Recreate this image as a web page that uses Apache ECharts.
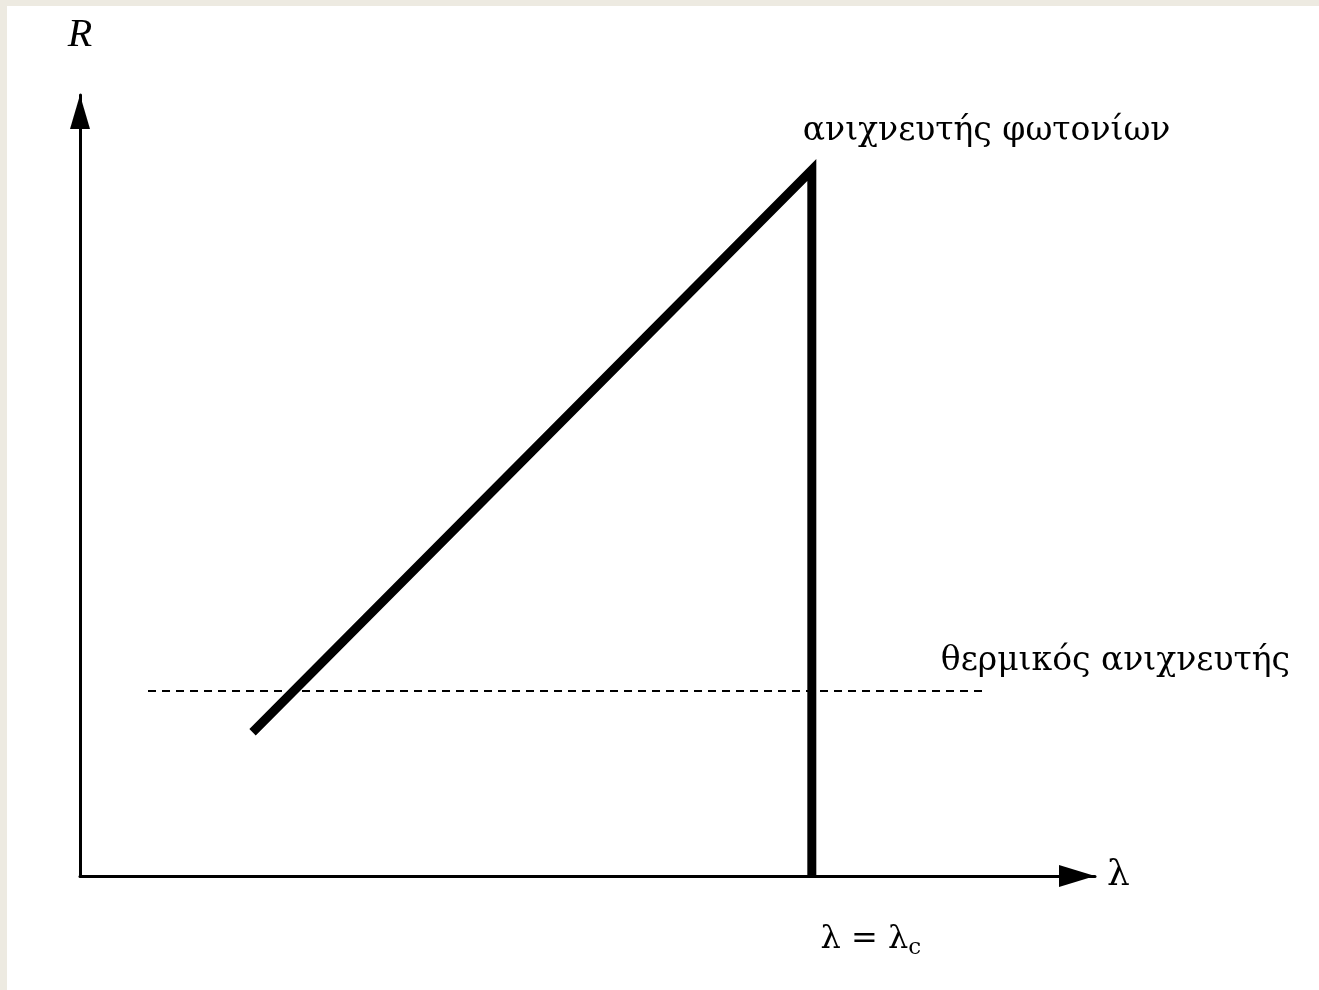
<!DOCTYPE html>
<html>
<head>
<meta charset="utf-8">
<script src="https://cdn.jsdelivr.net/npm/echarts@6/dist/echarts.min.js"></script>
<style>
  html, body { margin: 0; padding: 0; background: #edeae1; }
  #chart { position: absolute; left: 7px; top: 6px; width: 1312px; height: 984px; background: #ffffff; }
</style>
</head>
<body>
<div id="chart"></div>
<script>
// Data (arbitrary units: x and y span 0..100 along the axes)
const photonDetectorX = [17.0, 72.1, 72.1];
const photonDetectorY = [18.4, 90.4, 0];
const thermalDetectorX = [6.7, 89.2];
const thermalDetectorY = [23.7, 23.7];
const photonLabel = 'ανιχνευτής φωτονίων';
const thermalLabel = 'θερμικός ανιχνευτής';
const cutoffLabel = ['λ = λ', 'c'];
const xAxisName = 'λ';
const yAxisName = 'R';

const serif = '"DejaVu Serif", "Liberation Serif", serif';
const serifR = '"Liberation Serif", "DejaVu Serif", serif';

const photonData = photonDetectorX.map((x, i) => [x, photonDetectorY[i]]);
const thermalData = thermalDetectorX.map((x, i) => [x, thermalDetectorY[i]]);

const txt = { color: '#000000', opacity: 1, textBorderWidth: 0 };

// label anchors taken from the data points
const labelData = [
  {
    value: photonData[1],
    label: Object.assign({
      show: true, position: 'top', align: 'left', formatter: photonLabel,
      offset: [-9, -17], fontFamily: serif, fontSize: 33
    }, txt)
  },
  {
    value: photonData[2],
    label: Object.assign({
      show: true, position: 'bottom', align: 'center',
      formatter: '{a|' + cutoffLabel[0] + '}{s|' + cutoffLabel[1] + '}',
      offset: [59, 38],
      rich: {
        a: { fontFamily: serif, fontSize: 32, color: '#000000' },
        s: { fontFamily: serif, fontSize: 23, color: '#000000', padding: [18, 0, 0, 0] }
      }
    }, txt)
  },
  {
    value: thermalData[1],
    label: Object.assign({
      show: true, position: 'top', align: 'center', formatter: thermalLabel,
      offset: [130, -8], fontFamily: serif, fontSize: 33
    }, txt)
  }
];

const chart = echarts.init(document.getElementById('chart'), null, { renderer: 'canvas' });
chart.setOption({
  backgroundColor: '#ffffff',
  animation: false,
  textStyle: { color: '#000000' },
  grid: { left: 73, top: 89, right: 224, bottom: 114 },
  xAxis: {
    type: 'value', min: 0, max: 100,
    name: xAxisName, nameLocation: 'end', nameGap: 12,
    nameTextStyle: { fontFamily: serif, fontSize: 36, color: '#000', padding: [0, 0, 20, 0] },
    axisLine: { show: true, onZero: false, symbol: ['none', 'triangle'], symbolSize: [22, 36], symbolOffset: [0, -18],
      lineStyle: { color: '#000', width: 3 } },
    axisTick: { show: false }, axisLabel: { show: false }, splitLine: { show: false }
  },
  yAxis: {
    type: 'value', min: 0, max: 100,
    name: yAxisName, nameLocation: 'end', nameGap: 40,
    nameTextStyle: { fontFamily: serifR, fontSize: 40, fontStyle: 'italic', color: '#000', align: 'center' },
    axisLine: { show: true, onZero: false, symbol: ['none', 'triangle'], symbolSize: [20, 34], symbolOffset: [0, -17],
      lineStyle: { color: '#000', width: 3 } },
    axisTick: { show: false }, axisLabel: { show: false }, splitLine: { show: false }
  },
  series: [
    {
      type: 'line', data: thermalData, symbol: 'none', silent: true,
      lineStyle: { color: '#000', width: 2, type: [8, 6] }, z: 2
    },
    {
      type: 'line', data: photonData, symbol: 'none', silent: true,
      lineStyle: { color: '#000', width: 9, join: 'miter', cap: 'butt' }, z: 3
    },
    {
      type: 'scatter', data: labelData, symbolSize: 0, silent: true,
      itemStyle: { color: '#000000' }, z: 4
    }
  ]
});
</script>
</body>
</html>
